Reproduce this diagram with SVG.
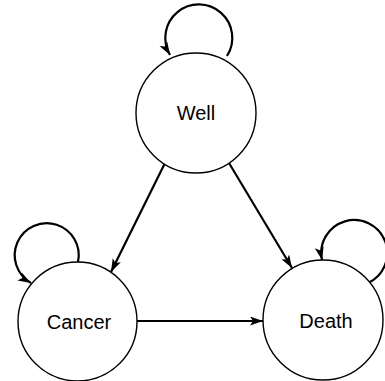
<svg xmlns="http://www.w3.org/2000/svg" width="385" height="381" viewBox="0 0 385 381">
<style>
.node circle{fill:#fff;stroke:#000;stroke-width:1.4}
.node text{font-family:"Liberation Sans",Arial,sans-serif;font-size:20px;text-anchor:middle;fill:#000}
.edge{fill:none;stroke:#000;stroke-width:2.2;marker-end:url(#ah)}
</style>
<defs>
<marker id="ah" markerUnits="userSpaceOnUse" markerWidth="16" markerHeight="12" refX="13" refY="4.5" orient="auto">
<path d="M0,0 L13,4.5 L0,9 L3,4.5 Z" fill="#000"/>
</marker>
</defs>
<rect width="385" height="381" fill="#fff"/>
<g id="connectors">
<path class="edge" d="M227 56 A33.5 33.5 0 1 0 170 55"/>
<path class="edge" d="M78 262 A32 32 0 1 0 31 283"/>
<path class="edge" d="M368 283 A33 33 0 1 0 322 260"/>
<path class="edge" d="M165 163 L111 272"/>
<path class="edge" d="M229 163 L292 268"/>
<path class="edge" d="M137 321 L263 321"/>
</g>
<g id="well" class="node"><circle cx="196" cy="113" r="60"/><text x="196" y="120">Well</text></g>
<g id="cancer" class="node"><circle cx="77.5" cy="321.5" r="59.5"/><text x="79" y="329">Cancer</text></g>
<g id="death" class="node"><circle cx="323" cy="320" r="60"/><text x="326" y="328">Death</text></g>
</svg>
